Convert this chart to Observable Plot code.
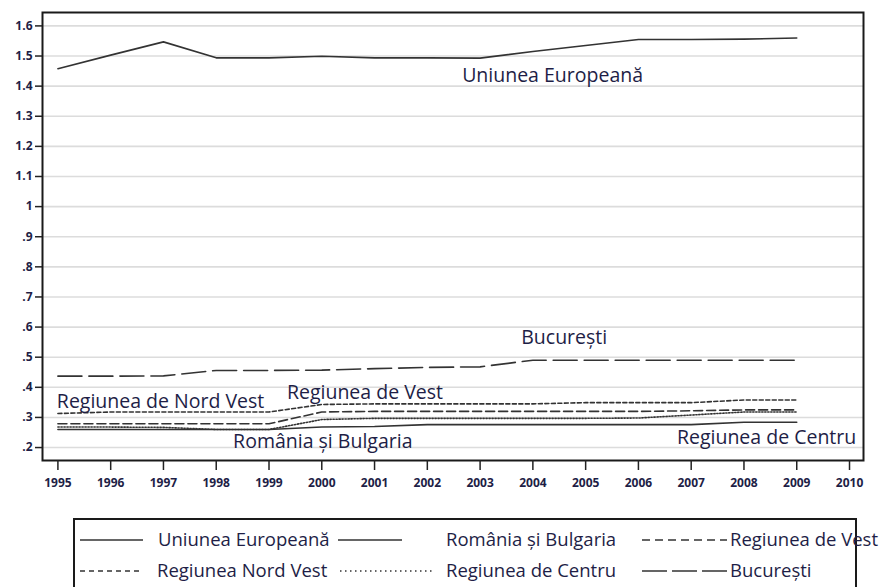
<!DOCTYPE html>
<html><head><meta charset="utf-8">
<script src="https://cdn.jsdelivr.net/npm/d3@7"></script>
<script src="https://cdn.jsdelivr.net/npm/@observablehq/plot@0.6"></script>
<style>
body{margin:0;background:#fff;}
#wrap{position:relative;width:894px;height:587px;overflow:hidden;background:#fff;}
#legend{position:absolute;left:0;top:505px;}
</style></head><body><div id="wrap"></div>
<script>
// ---- data ----
const years = [1995,1996,1997,1998,1999,2000,2001,2002,2003,2004,2005,2006,2007,2008,2009];
const uniuneaEuropeana = [1.458,1.503,1.547,1.494,1.494,1.499,1.494,1.494,1.493,1.515,1.535,1.555,1.555,1.556,1.560];
const romaniaBulgaria  = [0.260,0.260,0.260,0.260,0.260,0.268,0.270,0.276,0.276,0.276,0.276,0.276,0.276,0.284,0.284];
const regiuneaVest     = [0.279,0.279,0.279,0.279,0.279,0.318,0.320,0.320,0.320,0.320,0.320,0.320,0.322,0.325,0.325];
const regiuneaNordVest = [0.313,0.318,0.318,0.318,0.318,0.343,0.345,0.345,0.345,0.345,0.349,0.349,0.349,0.358,0.358];
const regiuneaCentru   = [0.268,0.268,0.267,0.260,0.260,0.293,0.297,0.297,0.297,0.297,0.297,0.298,0.308,0.318,0.318];
const bucuresti        = [0.437,0.437,0.438,0.456,0.456,0.457,0.462,0.466,0.468,0.490,0.490,0.490,0.490,0.490,0.490];

const seriesNames = ["Uniunea Europeană","România și Bulgaria","Regiunea de Vest","Regiunea Nord Vest","Regiunea de Centru","București"];
const seriesValues = [uniuneaEuropeana, romaniaBulgaria, regiuneaVest, regiuneaNordVest, regiuneaCentru, bucuresti];

const xTicks = [1995,1996,1997,1998,1999,2000,2001,2002,2003,2004,2005,2006,2007,2008,2009,2010];
const yTicks = [0.2,0.3,0.4,0.5,0.6,0.7,0.8,0.9,1.0,1.1,1.2,1.3,1.4,1.5,1.6];
const yTickLabels = [".2",".3",".4",".5",".6",".7",".8",".9","1","1.1","1.2","1.3","1.4","1.5","1.6"];

// in-chart labels (annotations, in data coordinates)
const labelTexts  = ["Uniunea Europeană","București","Regiunea de Nord Vest","Regiunea de Vest","România și Bulgaria","Regiunea de Centru"];
const labelYears  = [2002.66, 2003.78, 1994.98, 1999.34, 1998.32, 2006.73];
const labelValues = [1.436, 0.566, 0.353, 0.383, 0.220, 0.234];

// ---- styles (kept apart from data) ----
const dashes = ["none","none","9,4","4,2.5","1.3,1.7","24,7"];
const legendDashes = ["none","none","8,5","5,4","1.5,3.5","25,5"];
const textColor = "#1e1e46";

// ---- build tables ----
const rows = seriesNames.flatMap((s, i) => years.map((y, j) => ({series: s, year: y, value: seriesValues[i][j]})));
const labels = labelTexts.map((t, i) => ({text: t, year: labelYears[i], value: labelValues[i]}));

const chart = Plot.plot({
  width: 894, height: 500,
  marginLeft: 42, marginRight: 31, marginTop: 12, marginBottom: 40,
  style: {fontFamily: "'Open Sans', sans-serif", background: "#fff", overflow: "visible"},
  x: {domain: [1994.708, 2010.265], label: null},
  y: {domain: [0.157, 1.6445], label: null},
  marks: [
    Plot.ruleY(yTicks, {stroke: "#dcdcdc", strokeWidth: 1.6}),
    ...seriesNames.map((s, i) => Plot.line(rows.filter(d => d.series === s), {
      x: "year", y: "value", stroke: "#333", strokeWidth: 1.6, strokeDasharray: dashes[i]
    })),
    Plot.text(labels, {x: "year", y: "value", text: "text", textAnchor: "start", lineAnchor: "middle",
      fontSize: 19.5, fill: textColor}),
    Plot.frame({stroke: "#1a1a1a", strokeWidth: 2}),
    Plot.axisY(yTicks, {label: null, tickFormat: d => yTickLabels[yTicks.indexOf(d)], tickSize: 7, tickPadding: 3,
      fontSize: 12, fontWeight: "bold", stroke: "#222", strokeWidth: 1.5}),
    Plot.axisX(xTicks, {label: null, tickFormat: d => String(d), tickSize: 10, tickPadding: 8,
      fontSize: 12, fontWeight: "bold", stroke: "#222", strokeWidth: 1.5})
  ]
});
document.getElementById("wrap").appendChild(chart);
d3.select(chart).selectAll('g[aria-label="y-axis tick label"], g[aria-label="x-axis tick label"]')
  .attr("fill", textColor).attr("font-weight", "bold");

// ---- legend (below the chart) ----
const legendLayout = [
  {x1: 80, x2: 143, tx: 158, row: 0},
  {x1: 338, x2: 402, tx: 446, row: 0},
  {x1: 642, x2: 727, tx: 730, row: 0},
  {x1: 80, x2: 143, tx: 157, row: 1},
  {x1: 340, x2: 433, tx: 446, row: 1},
  {x1: 642, x2: 727, tx: 730, row: 1}
];
const rowY = [35, 66];
const leg = d3.select("#wrap").append("svg").attr("id", "legend")
  .attr("width", 894).attr("height", 82)
  .style("font-family", "'Open Sans', sans-serif");
leg.append("path").attr("d", "M74,82V14H856V82").attr("fill", "none").attr("stroke", "#1a1a1a").attr("stroke-width", 2);
seriesNames.forEach((s, i) => {
  const L = legendLayout[i];
  leg.append("line").attr("x1", L.x1).attr("x2", L.x2).attr("y1", rowY[L.row]).attr("y2", rowY[L.row])
    .attr("stroke", "#333").attr("stroke-width", 1.6)
    .attr("stroke-dasharray", legendDashes[i]);
  leg.append("text").attr("x", L.tx).attr("y", rowY[L.row]).attr("dy", "0.35em")
    .attr("font-size", 18.5).attr("fill", textColor).text(s);
});
</script></body></html>
